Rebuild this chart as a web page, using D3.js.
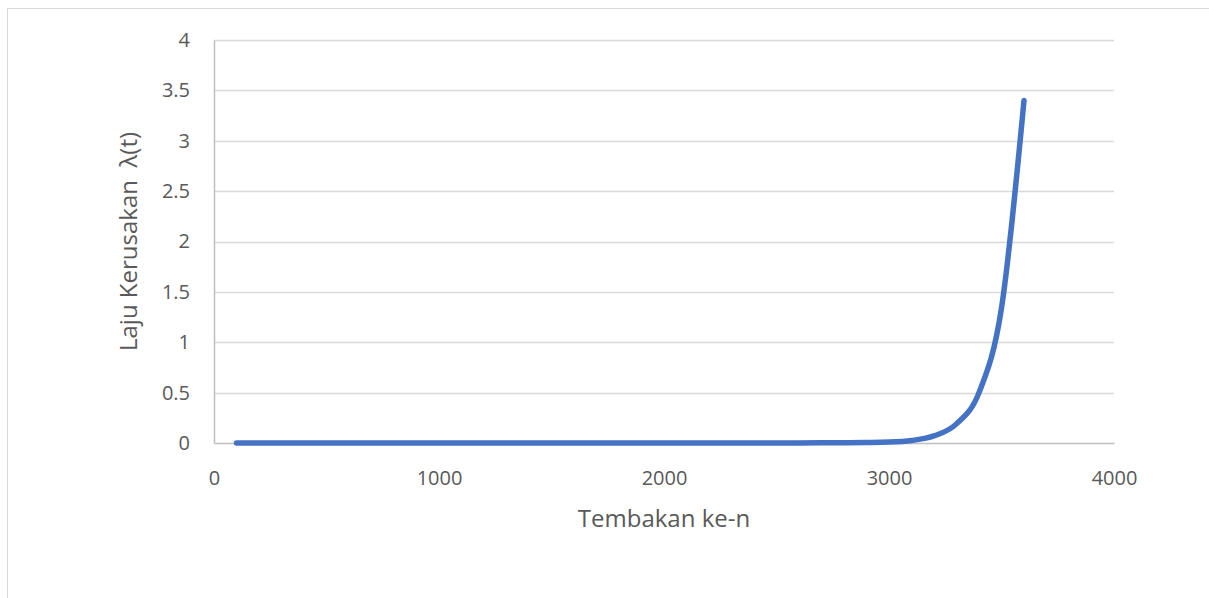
<!DOCTYPE html>
<html>
<head>
<meta charset="utf-8">
<script src="https://cdn.jsdelivr.net/npm/d3@7"></script>
<style>
  body { margin: 0; background: #fff; }
  text { font-family: "Open Sans", Lato, sans-serif; fill: #595959; }
</style>
</head>
<body>
<script>
// shot number (Tembakan ke-n) and hazard rate
var shots = [100, 200, 300, 400, 500, 600, 700, 800, 900, 1000,
  1100, 1200, 1300, 1400, 1500, 1600, 1700, 1800, 1900, 2000,
  2100, 2200, 2300, 2400, 2500, 2600, 2700, 2800, 2900, 3000,
  3100, 3200, 3300, 3400, 3500, 3600];
var rates = [0, 0, 0, 0, 0, 0, 0, 0, 0, 0,
  0, 0, 0, 0, 0, 0, 0, 0, 0, 0.0001,
  0.0001, 0.0002, 0.0003, 0.0004, 0.0006, 0.0009, 0.0015, 0.0026, 0.0045, 0.009,
  0.025, 0.07, 0.19, 0.5, 1.34, 3.4];
var xTicks = [0, 1000, 2000, 3000, 4000];
var yTicks = [0, 0.5, 1, 1.5, 2, 2.5, 3, 3.5, 4];

var W = 1209, H = 598;
var margin = {top: 40, right: 95, bottom: 155, left: 214};
var width = W - margin.left - margin.right,
    height = H - margin.top - margin.bottom;

var data = shots.map(function(s, i) { return {x: s, y: rates[i]}; });

var svg = d3.select("body").append("svg")
  .attr("width", W)
  .attr("height", H);

// chart frame (cut off at right/bottom like the reference)
svg.append("rect")
  .attr("x", 7.5).attr("y", 8.5)
  .attr("width", W + 10).attr("height", H + 10)
  .attr("fill", "none").attr("stroke", "#d9d9d9");

var g = svg.append("g")
  .attr("transform", "translate(" + margin.left + "," + margin.top + ")");

var x = d3.scaleLinear().domain([0, 4000]).range([0, width]);
var y = d3.scaleLinear().domain([0, 4]).range([height, 0]);

// horizontal gridlines
g.append("g")
  .selectAll("line")
  .data(yTicks.filter(function(d) { return d > 0; }))
  .enter().append("line")
  .attr("x1", 0).attr("x2", width)
  .attr("y1", function(d) { return Math.round(y(d)) + 0.5; })
  .attr("y2", function(d) { return Math.round(y(d)) + 0.5; })
  .attr("stroke", "#d9d9d9").attr("stroke-width", 1.5);

// y axis
var yAxis = d3.axisLeft(y).tickValues(yTicks).tickSize(0).tickPadding(24)
  .tickFormat(function(d) { return d; });
var ya = g.append("g").call(yAxis);
ya.select(".domain").attr("stroke", "#bfbfbf").attr("stroke-width", 1.5);
ya.selectAll("text").style("font-size", "20px").attr("fill", "#595959");

// x axis
var xAxis = d3.axisBottom(x).tickValues(xTicks).tickSize(0).tickPadding(28)
  .tickFormat(d3.format("d"));
var xa = g.append("g")
  .attr("transform", "translate(0," + height + ")")
  .call(xAxis);
xa.select(".domain").attr("stroke", "#bfbfbf").attr("stroke-width", 1.5);
xa.selectAll("text").style("font-size", "20px").attr("fill", "#595959");

// the series
var line = d3.line()
  .x(function(d) { return x(d.x); })
  .y(function(d) { return y(d.y); })
  .curve(d3.curveMonotoneX);

g.append("path")
  .datum(data)
  .attr("d", line)
  .attr("fill", "none")
  .attr("stroke", "#4472c4")
  .attr("stroke-width", 5.5)
  .attr("stroke-linecap", "round")
  .attr("stroke-linejoin", "round");

// axis titles
g.append("text")
  .attr("x", width / 2).attr("y", height + 84)
  .attr("text-anchor", "middle")
  .style("font-size", "24px")
  .text("Tembakan ke-n");

g.append("text")
  .attr("transform", "translate(" + (-77) + "," + (height / 2) + ") rotate(-90)")
  .attr("text-anchor", "middle")
  .style("font-size", "24px")
  .text("Laju Kerusakan \u00a0λ(t)");
</script>
</body>
</html>
